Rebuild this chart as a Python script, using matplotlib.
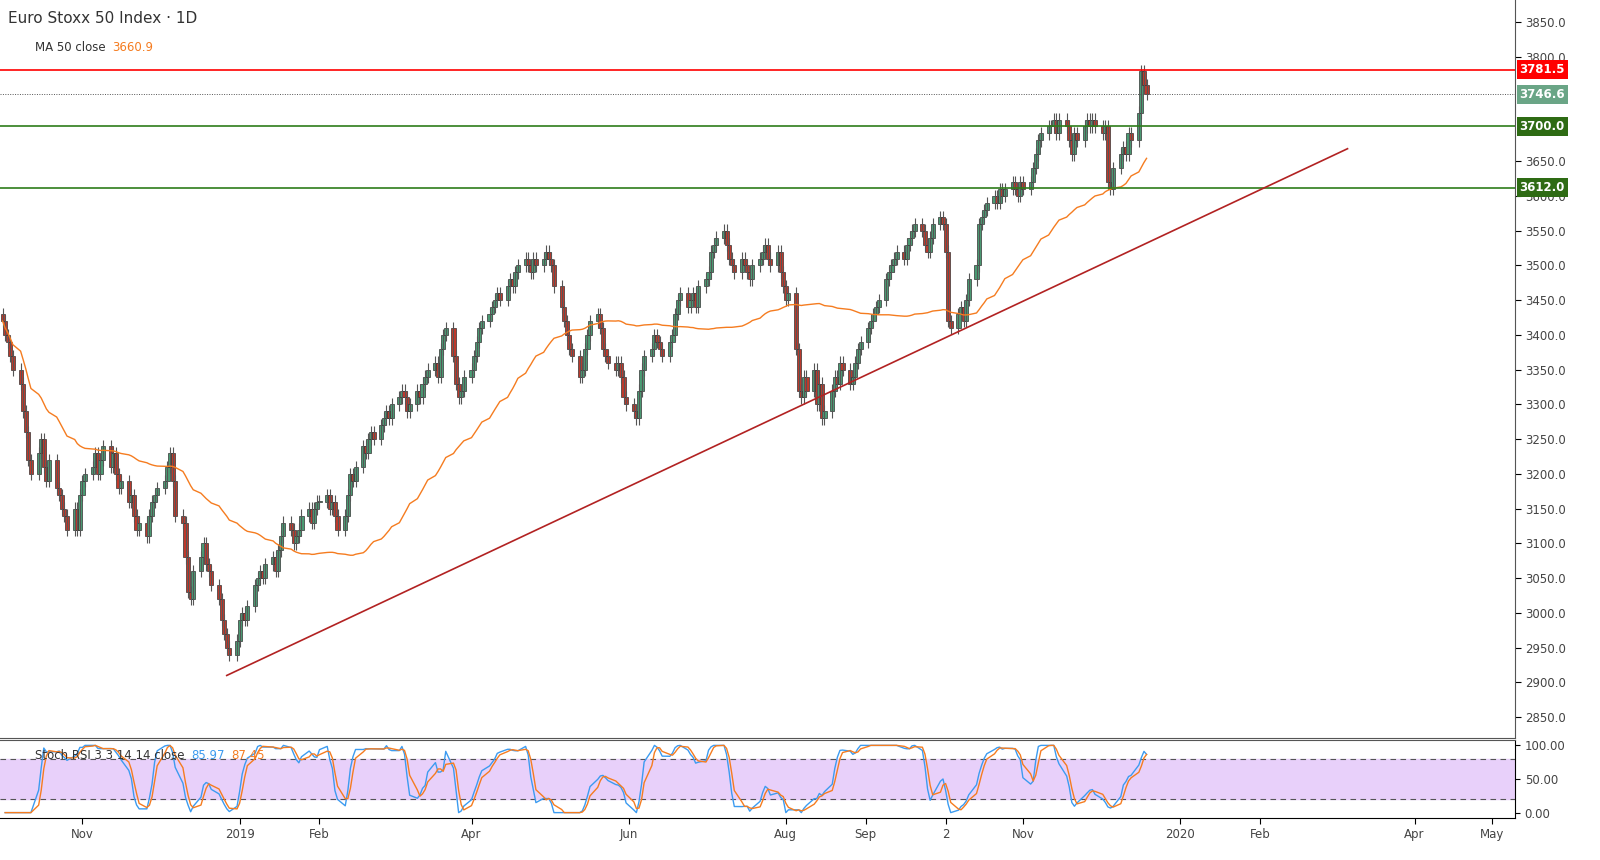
import numpy as np
import pandas as pd
import matplotlib
matplotlib.use("Agg")
from matplotlib import pyplot as plt
import matplotlib.dates as mdates

closes = [
    3420,3400,3390,3370,3350,3330,3290,3260,3220,3200,3230,3250,3210,3190,3220,3180,3170,3150,3140,3120,3150,3120,3170,3190,3200,
    3210,3230,3200,3220,3240,3210,3230,3200,3180,3190,3160,3170,3140,3120,3130,3110,3140,3160,3170,3180,3190,3210,
    3230,3190,3140,3130,3080,3030,3020,3060,3080,3100,3070,3060,3040,3020,2990,2970,2950,2940,2960,2990,3000,
    2990,3010,3040,3050,3060,3050,3070,3080,3060,3090,3110,3130,3120,3100,3110,3120,3140,3150,3130,3150,3160,3160,3170,
    3150,3160,3140,3120,3140,3170,3200,3190,3210,3240,3230,3250,3260,3250,3270,3280,3290,3280,3300,3310,
    3320,3310,3290,3300,3320,3310,3330,3340,3350,3360,3340,3380,3400,3410,3370,3330,3310,3320,3340,3350,3370,
    3390,3410,3420,3430,3440,3450,3460,3450,3470,3480,3470,3490,3500,3510,3500,3490,3510,3500,3510,3520,3510,3500,
    3470,3440,3420,3400,3380,3370,3340,3350,3380,3400,3420,3430,3410,3380,3370,3360,3350,3360,3340,3310,3300,3290,3280,
    3320,3350,3370,3380,3400,3390,3380,3370,3390,3400,3430,3450,3460,3440,3450,3460,3440,3470,3480,3490,
    3520,3530,3540,3550,3530,3510,3500,3490,3510,3500,3490,3480,3500,3510,3520,3530,3510,3500,3520,3490,3470,3450,3460,
    3380,3320,3310,3340,3320,3350,3300,3330,3280,3290,3320,3340,3330,3360,3350,3330,3340,3360,3380,3390,3410,3420,
    3430,3440,3450,3480,3490,3500,3510,3520,3510,3530,3540,3550,3560,3550,3530,3520,3540,3560,3570,3560,3520,
    3420,3410,3430,3440,3420,3450,3480,3500,3560,3570,3580,3590,3600,3590,3610,3600,3610,3620,3610,3600,3620,3610,3620,
    3640,3660,3680,3690,3700,3700,3710,3690,3710,3700,3680,3660,3690,3680,3700,3710,3700,3710,3700,3690,3700,
    3620,3610,3640,3660,3670,3660,3690,3680,3720,3780,3760,3747,
]
start_date = "2018-10-01"
levels_green = [3700.0, 3612.0]
level_red = 3781.5
last_price = 3746.6
trend_start = ("2018-12-27", 2910)
trend_end = ("2020-03-06", 3668)
price_ticks = [2850, 2900, 2950, 3000, 3050, 3100, 3150, 3200, 3250, 3300, 3350, 3400,
               3450, 3500, 3550, 3600, 3650, 3800, 3850]
month_ticks = ["2018-11-01","2019-01-01","2019-02-01","2019-04-01","2019-06-01","2019-08-01",
               "2019-09-01","2019-10-02","2019-11-01","2020-01-01","2020-02-01","2020-04-01","2020-05-01"]
month_labels = ["Nov","2019","Feb","Apr","Jun","Aug","Sep","2","Nov","2020","Feb","Apr","May"]

c = pd.Series(closes, dtype=float)
dates = pd.bdate_range(start_date, periods=len(c))
x = mdates.date2num(dates)
o = c.shift(1).fillna(c.iloc[0] + 10)
hi = np.maximum(o, c) + 9
lo = np.minimum(o, c) - 9
ma = c.rolling(50, min_periods=1).mean()

# stoch rsi 3 3 14 14
d = c.diff()
up = d.clip(lower=0).ewm(alpha=1/14, adjust=False).mean()
dn = (-d.clip(upper=0)).ewm(alpha=1/14, adjust=False).mean()
rsi = 100 - 100 / (1 + up / dn.replace(0, 1e-9))
rmin = rsi.rolling(14, min_periods=1).min()
rmax = rsi.rolling(14, min_periods=1).max()
st = (rsi - rmin) / (rmax - rmin).replace(0, 1e-9) * 100
k = st.rolling(3, min_periods=1).mean()
dd = k.rolling(3, min_periods=1).mean()

fig = plt.figure(figsize=(16, 8.6), dpi=100)
ax = fig.add_axes([0, 1 - 738/860, 1515/1600, 738/860])
ax2 = fig.add_axes([0, 1 - 818/860, 1515/1600, 78/860], sharex=ax)

gcol, rcol = "#4b9c74", "#c0392b"
for xi, oi, ci, h, l in zip(x, o, c, hi, lo):
    col = gcol if ci >= oi else rcol
    ax.vlines(xi, l, h, color="#555555", lw=0.8)
    ax.bar(xi, max(abs(ci - oi), 1.5), bottom=min(oi, ci), width=1.6, color=col, edgecolor="#333333", lw=0.5)
ax.plot(x, ma, color="#f57c20", lw=1)

ax.axhline(level_red, color="#ff0000", lw=1.2)
for lv in levels_green:
    ax.axhline(lv, color="#2e7d1a", lw=1.2)
ax.axhline(last_price, color="#555555", lw=0.7, ls=(0, (1, 1.5)))
tx = mdates.date2num(pd.to_datetime([trend_start[0], trend_end[0]]))
ax.plot(tx, [trend_start[1], trend_end[1]], color="#b22222", lw=1.2)

xmin = mdates.date2num(pd.Timestamp("2018-09-30"))
xmax = mdates.date2num(pd.Timestamp("2020-05-10"))
ax.set_xlim(xmin, xmax)
ax.set_ylim(2820, 3882)
ax.yaxis.tick_right()
ax.set_yticks(price_ticks)
ax.set_yticklabels([f"{v:.1f}" for v in price_ticks], fontsize=8.5, color="#444444")
ax.tick_params(axis="y", length=4, pad=3)
ax.tick_params(axis="x", bottom=False, labelbottom=False)
for s in ["left", "top"]:
    ax.spines[s].set_visible(False)
ax.spines["bottom"].set_color("#555555")
ax.spines["right"].set_color("#555555")

def tag(a, y, txt, bg, fg="white"):
    a.text(1.003, y, txt, transform=a.get_yaxis_transform(), fontsize=8.5, fontweight="bold",
           color=fg, va="center", ha="left",
           bbox=dict(boxstyle="square,pad=0.25", fc=bg, ec="none"))
tag(ax, level_red, "3781.5", "#ff0000")
tag(ax, last_price, "3746.6", "#6aa586")
tag(ax, levels_green[0], "3700.0", "#2e6b14")
tag(ax, levels_green[1], "3612.0", "#2e6b14")

def after(a, prev, txt, color):
    return a.annotate(txt, xy=(1, 0.5), xycoords=prev, xytext=(5, 0), textcoords="offset points",
                      fontsize=8.5, color=color, va="center", ha="left")

ax.text(0.005, 0.985, "Euro Stoxx 50 Index · 1D", transform=ax.transAxes, fontsize=11, color="#333333", va="top")
t1 = ax.text(0.023, 0.945, "MA 50 close", transform=ax.transAxes, fontsize=8.5, color="#333333", va="top")
after(ax, t1, "3660.9", "#f57c20")

ax2.axhspan(20, 80, color="#e8d0fa")
ax2.axhline(80, color="#555555", lw=0.8, ls=(0, (5, 4)))
ax2.axhline(20, color="#555555", lw=0.8, ls=(0, (5, 4)))
ax2.plot(x, k, color="#3c9bf0", lw=1)
ax2.plot(x, dd, color="#f57c20", lw=1)
ax2.set_ylim(-8, 108)
ax2.yaxis.tick_right()
ax2.set_yticks([0, 50, 100])
ax2.set_yticklabels(["0.00", "50.00", "100.00"], fontsize=8.5, color="#444444")
ax2.spines["left"].set_visible(False)
ax2.spines["top"].set_color("#555555")
t2 = ax2.text(0.023, 0.80, "Stoch RSI 3 3 14 14 close", transform=ax2.transAxes, fontsize=8.5, color="#333333",
              va="center")
t3 = after(ax2, t2, "85.97", "#3c9bf0")
after(ax2, t3, "87.45", "#f57c20")
mt = mdates.date2num(pd.to_datetime(month_ticks))
ax2.set_xticks(mt)
ax2.set_xticklabels(month_labels, fontsize=8.5, color="#444444")
ax2.tick_params(axis="x", length=4)

fig.savefig("out.png", dpi=100)
